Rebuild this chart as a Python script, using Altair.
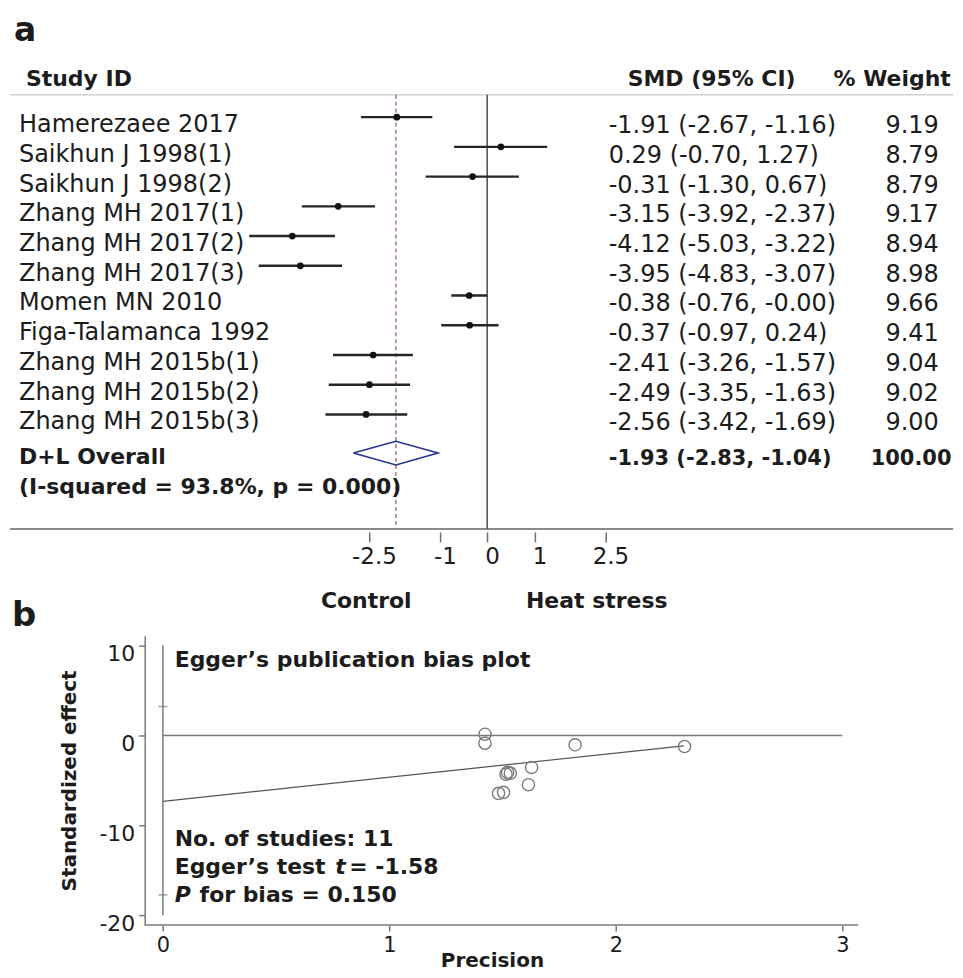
import altair as alt
import pandas as pd

# ---------------- data ----------------
studies = ["Hamerezaee 2017", "Saikhun  J 1998(1)", "Saikhun  J 1998(2)",
           "Zhang MH 2017(1)", "Zhang MH 2017(2)", "Zhang MH 2017(3)",
           "Momen MN 2010", "Figa-Talamanca 1992", "Zhang MH 2015b(1)",
           "Zhang MH 2015b(2)", "Zhang MH 2015b(3)"]
smd = [-1.91, 0.29, -0.31, -3.15, -4.12, -3.95, -0.38, -0.37, -2.41, -2.49, -2.56]
ci_low = [-2.67, -0.70, -1.30, -3.92, -5.03, -4.83, -0.76, -0.97, -3.26, -3.35, -3.42]
ci_high = [-1.16, 1.27, 0.67, -2.37, -3.22, -3.07, -0.00, 0.24, -1.57, -1.63, -1.69]
weight = [9.19, 8.79, 8.79, 9.17, 8.94, 8.98, 9.66, 9.41, 9.04, 9.02, 9.00]

overall_label = "D+L Overall"
heterogeneity = "(I-squared = 93.8%, p = 0.000)"
overall_smd = [-1.93]
overall_low = [-2.83]
overall_high = [-1.04]
overall_weight = [100.00]

forest_ticks = [-2.5, -1, 0, 1, 2.5]
favour_labels = ["Control", "Heat stress"]

# Egger's plot
precision = [1.422, 1.422, 1.820, 2.303, 1.628, 1.522, 1.534, 1.515, 1.614, 1.482, 1.504]
std_effect = [0.14, -0.86, -1.04, -1.23, -3.56, -4.11, -4.19, -4.30, -5.48, -6.44, -6.33]
fit_precision = [0.0, 2.30]
fit_effect = [-7.33, -1.15]
intercept_ci = [3.22, -17.74]
egger_xticks = [0, 1, 2, 3]
egger_yticks = [10, 0, -10, -20]

# ---------------- layout / style ----------------
FONT = "DejaVu Sans"
INK = "#1c1c1c"
OVERALL_ROW = 12.3
HET_ROW = 13.3
Y_TOP, Y_BOT = 0.25, 14.85
H_A, W_A = 435, 945
LABEL_EXPR = "datum.value < 0 ? '-' + format(-datum.value, '~g') : format(datum.value, '~g')"
PAD = {"left": 0, "top": 5, "right": 0, "bottom": 0}


def f2(v):
    return f"{v:.2f}"


rows = list(range(1, len(studies) + 1))
forest = pd.DataFrame({
    "study": studies, "smd": smd, "lo": ci_low, "hi": ci_high, "row": rows,
    "ci_text": [f"{f2(s)} ({f2(l)}, {f2(h)})" for s, l, h in zip(smd, ci_low, ci_high)],
    "w_text": [f2(w) for w in weight],
})
overall = pd.DataFrame({
    "smd": overall_smd, "lo": overall_low, "hi": overall_high, "row": [OVERALL_ROW],
    "ci_text": [f"{f2(s)} ({f2(l)}, {f2(h)})" for s, l, h in zip(overall_smd, overall_low, overall_high)],
    "w_text": [f2(w) for w in overall_weight],
})
summary = pd.DataFrame({"label": [overall_label, heterogeneity], "row": [OVERALL_ROW, HET_ROW]})
half = 0.4
diamond = pd.DataFrame({
    "x": [overall_low[0], overall_smd[0], overall_high[0], overall_smd[0], overall_low[0]],
    "y": [OVERALL_ROW, OVERALL_ROW - half, OVERALL_ROW, OVERALL_ROW + half, OVERALL_ROW],
    "o": [0, 1, 2, 3, 4],
})
one = pd.DataFrame({"k": [0]})

yscale = alt.Scale(domain=[Y_TOP, Y_BOT], reverse=True, nice=False, zero=False)
# forest x scale covers the whole table width (about 47.4 px per SMD unit)
xscale = alt.Scale(domain=[-10.09, 9.85], nice=False, zero=False)
fx_axis = alt.Axis(
    values=forest_ticks, domain=False, grid=False, title=None, offset=3,
    tickSize=10, tickColor="#707070", tickWidth=1.5, labelFont=FONT, labelFontSize=23,
    labelColor=INK, labelPadding=4, labelOffset=5, labelFlush=False,
    labelOverlap=False, labelExpr=LABEL_EXPR)


def txt(s):
    return pd.DataFrame({"t": [s]})


def label(s, x, y, size=22, bold=True, align="left", baseline="middle", italic=False):
    kw = dict(align=align, baseline=baseline, font=FONT, fontSize=size, color=INK)
    if bold:
        kw["fontWeight"] = "bold"
    if italic:
        kw["fontStyle"] = "italic"
    return alt.Chart(txt(s)).mark_text(**kw).encode(x=alt.value(x), y=alt.value(y), text="t:N")


yrow = alt.Y("row:Q", scale=yscale, axis=None)

top_rule = alt.Chart(one).mark_rule(color="#d2d2d2", strokeWidth=1.5).encode(
    y=alt.Y(datum=Y_TOP, scale=yscale, axis=None))
bot_rule = alt.Chart(one).mark_rule(color="#8a8a8a", strokeWidth=2).encode(
    y=alt.Y(datum=Y_BOT, scale=yscale, axis=None))
zero_line = alt.Chart(one).mark_rule(color="#555", strokeWidth=1.6).encode(
    x=alt.X(datum=0, scale=xscale, axis=fx_axis))
pooled_line = alt.Chart(overall).mark_rule(color="#a0607a", strokeWidth=1.3, strokeDash=[4, 3]).encode(
    x=alt.X("smd:Q", scale=xscale, axis=fx_axis))
ci = alt.Chart(forest).mark_rule(color="#262626", strokeWidth=2.4).encode(
    x=alt.X("lo:Q", scale=xscale, axis=fx_axis), x2="hi:Q", y=yrow)
dots = alt.Chart(forest).mark_circle(size=45, color="#111", opacity=1).encode(
    x=alt.X("smd:Q", scale=xscale, axis=fx_axis), y=yrow)
diamond_mark = alt.Chart(diamond).mark_line(color="#26348c", strokeWidth=1.6).encode(
    x=alt.X("x:Q", scale=xscale, axis=fx_axis), y=alt.Y("y:Q", scale=yscale, axis=None),
    order="o:Q")

names_txt = alt.Chart(forest).mark_text(
    align="left", baseline="middle", dy=8, font=FONT, fontSize=24, color=INK
).encode(x=alt.value(9), y=yrow, text="study:N")
summary_txt = alt.Chart(summary).mark_text(
    align="left", baseline="middle", dy=4, font=FONT, fontSize=22, fontWeight="bold", color=INK
).encode(x=alt.value(9), y=yrow, text="label:N")
ci_txt = alt.Chart(forest).mark_text(
    align="left", baseline="middle", dy=9, font=FONT, fontSize=24, color=INK
).encode(x=alt.value(600), y=yrow, text="ci_text:N")
w_txt = alt.Chart(forest).mark_text(
    align="center", baseline="middle", dy=9, font=FONT, fontSize=24, color=INK
).encode(x=alt.value(904), y=yrow, text="w_text:N")
ov_ci_txt = alt.Chart(overall).mark_text(
    align="left", baseline="middle", dy=6, font=FONT, fontSize=21, fontWeight="bold", color=INK
).encode(x=alt.value(600), y=yrow, text="ci_text:N")
ov_w_txt = alt.Chart(overall).mark_text(
    align="center", baseline="middle", dy=6, font=FONT, fontSize=21, fontWeight="bold", color=INK
).encode(x=alt.value(903), y=yrow, text="w_text:N")

panel_a = alt.layer(
    top_rule, bot_rule, zero_line, pooled_line, ci, dots, diamond_mark,
    names_txt, summary_txt, ci_txt, w_txt, ov_ci_txt, ov_w_txt,
    label("Study ID", 16, -16),
    label("SMD (95% CI)", 619, -16),
    label("% Weight", 884, -16, align="center"),
    label(favour_labels[0], 357, 507, align="center"),
    label(favour_labels[1], 588, 507, align="center"),
    label("a", 4, -54, size=33, baseline="alphabetic"),
    label("b", 2, 532, size=34, baseline="alphabetic"),
).properties(width=W_A, height=H_A)

# ---------------- panel b: Egger ----------------
ex = alt.Scale(domain=[-0.675, 3.07], nice=False, zero=False)
ey = alt.Scale(domain=[-21.1, 11.1], nice=False, zero=False)
ex_axis = alt.Axis(
    values=egger_xticks, title="Precision", grid=False, domain=False,
    tickColor="#7a7a7a", tickWidth=1.5, tickSize=6, labelFont=FONT, labelFontSize=21,
    labelColor=INK, labelPadding=3, labelFlush=False, format="d",
    titleFont=FONT, titleFontSize=20, titleFontWeight="bold", titleColor=INK,
    titlePadding=-4, titleX=483)
ey_axis = alt.Axis(
    values=egger_yticks, title="Standardized effect", grid=False, offset=-135,
    domainColor="#7a7a7a", domainWidth=1.5, tickColor="#7a7a7a", tickWidth=1.5, tickSize=6,
    labelFont=FONT, labelFontSize=22, labelColor=INK, labelPadding=4, labelOffset=8,
    labelFlush=False, labelExpr=LABEL_EXPR, titleFont=FONT, titleFontSize=20,
    titleFontWeight="bold", titleColor=INK, titlePadding=19)

egger_df = pd.DataFrame({"prec": precision, "eff": std_effect})
fit_df = pd.DataFrame({"prec": fit_precision, "eff": fit_effect})
cap_df = pd.DataFrame({"eff": intercept_ci})

pts = alt.Chart(egger_df).mark_point(
    shape="circle", filled=False, size=150, strokeWidth=1.4, color="#7a7a7a", opacity=1
).encode(x=alt.X("prec:Q", scale=ex, axis=ex_axis), y=alt.Y("eff:Q", scale=ey, axis=ey_axis))
base_rule = alt.Chart(one).mark_rule(color="#7a7a7a", strokeWidth=1.5).encode(
    x=alt.X(datum=-0.08, scale=ex, axis=ex_axis), x2=alt.X2(datum=3.07),
    y=alt.Y(datum=-21.1, scale=ey, axis=ey_axis))
fit_line = alt.Chart(fit_df).mark_line(color="#555", strokeWidth=1.3).encode(
    x=alt.X("prec:Q", scale=ex, axis=ex_axis), y=alt.Y("eff:Q", scale=ey, axis=ey_axis))
zero_h = alt.Chart(one).mark_rule(color="#7a7a7a", strokeWidth=1.5).encode(
    x=alt.X(datum=egger_xticks[0], scale=ex, axis=ex_axis), x2=alt.X2(datum=egger_xticks[-1]),
    y=alt.Y(datum=0, scale=ey, axis=ey_axis))
vert = alt.Chart(one).mark_rule(color="#7a7a7a", strokeWidth=1.5).encode(
    x=alt.X(datum=0, scale=ex, axis=ex_axis),
    y=alt.Y(datum=egger_yticks[0], scale=ey, axis=ey_axis), y2=alt.Y2(datum=egger_yticks[-1]))
caps = alt.Chart(cap_df).mark_tick(orient="horizontal", size=9, thickness=1.5, color="#7a7a7a").encode(
    x=alt.X(datum=0, scale=ex, axis=ex_axis), y=alt.Y("eff:Q", scale=ey, axis=ey_axis))

panel_b = alt.layer(
    base_rule, vert, caps, zero_h, fit_line, pts,
    label("Egger\u2019s publication bias plot", 165, 24),
    label("No. of studies: 11", 165, 204),
    label("Egger\u2019s test", 165, 232),
    label("t", 326, 232, italic=True),
    label("= -1.58", 340, 232),
    label("P", 165, 260, italic=True),
    label("for bias = 0.150", 190, 260),
).properties(width=850, height=290)

chart = alt.vconcat(panel_a, panel_b, spacing=1).properties(
    padding=PAD, background="white"
).configure(padding=PAD).configure_view(stroke="transparent")

chart.save("out.html", embed_options={"renderer": "svg", "actions": False})
